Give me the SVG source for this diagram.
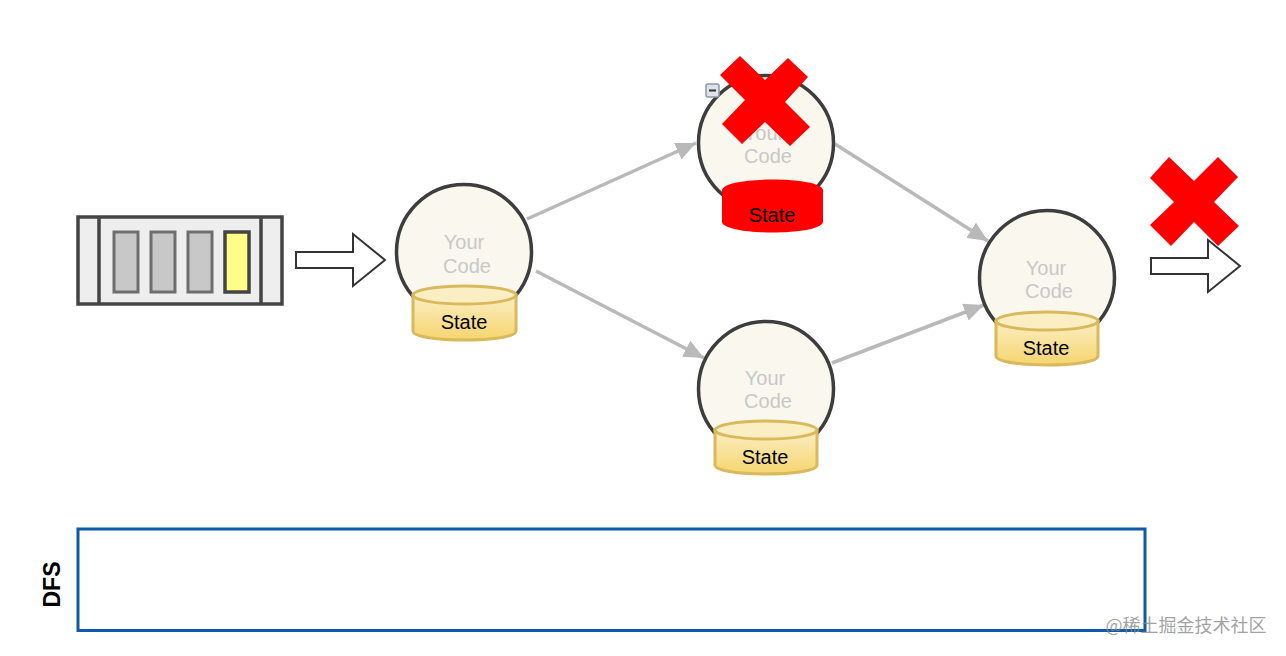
<svg xmlns="http://www.w3.org/2000/svg" width="1286" height="656" viewBox="0 0 1286 656">
<style>
.ball{fill:#f9f7ee;stroke:#3d3d3d;stroke-width:3.5}
.code{font:20px "Liberation Sans",Arial,sans-serif;fill:#c8c8c8;text-anchor:middle}
.state{font:20px "Liberation Sans",Arial,sans-serif;fill:#000;text-anchor:middle}
.can{fill:url(#gold);stroke:#d9b95c;stroke-width:3}
.lid{fill:#fbeec3;stroke:#d9b95c;stroke-width:3}
.conn{stroke:#b9b9b9;stroke-width:3.5;fill:none;marker-end:url(#ah)}
.big{fill:#fff;stroke:#333;stroke-width:2}
.slot{fill:#c8c8c8;stroke:#6e6e6e;stroke-width:3}
.x{fill:#ff0000}
</style>
<defs>
<linearGradient id="gold" x1="0" y1="0" x2="0" y2="1"><stop offset="0" stop-color="#fbeec3"/><stop offset="1" stop-color="#f6d56f"/></linearGradient>
<marker id="ah" markerUnits="userSpaceOnUse" markerWidth="22" markerHeight="18" refX="20" refY="9" orient="auto"><path d="M0 0L20 9L0 18z" fill="#b9b9b9"/></marker>
</defs>
<rect width="1286" height="656" fill="#fff"/>
<g id="connectors">
<path class="conn" d="M527 219L696 143"/>
<path class="conn" d="M536 271L704 358"/>
<path class="conn" d="M835 144L988 241"/>
<path class="conn" d="M832 363L984 305"/>
</g>
<g id="queue">
<rect x="78" y="217" width="204" height="87" fill="#eeeeee" stroke="#444" stroke-width="3.5"/>
<path d="M99 217V304M261 217V304" stroke="#444" stroke-width="3.5" fill="none"/>
<rect class="slot" x="114" y="232" width="24" height="60"/>
<rect class="slot" x="151" y="232" width="24" height="60"/>
<rect class="slot" x="188" y="232" width="24" height="60"/>
<rect x="225" y="232" width="24" height="60" fill="#ffff88" stroke="#444" stroke-width="3.5"/>
</g>
<g id="arrow-in"><path class="big" d="M296 252H353V234L385 260L353 286V268H296z"/></g>
<g id="node-a">
<circle class="ball" cx="464" cy="252" r="67.5"/>
<text class="code" x="464" y="249">Your</text><text class="code" x="467" y="273">Code</text>
<path class="can" d="M413 295V331C413 343 516 343 516 331V295z"/>
<ellipse class="lid" cx="464.500" cy="295" rx="51.500" ry="9"/>
<text class="state" x="464" y="329">State</text>
</g>
<g id="node-b">
<circle class="ball" cx="766" cy="143" r="67.500"/>
<text class="code" x="764" y="140">Your</text><text class="code" x="768" y="163">Code</text>
<path d="M722 190C724 176 821 176 823 190V222C820 236 725 236 722 222z" fill="#ff0000"/>
<text class="state" x="772" y="222">State</text>
<rect x="706" y="84" width="13" height="13" rx="2" fill="#dde3ea" stroke="#8c99a8" stroke-width="1.500"/>
<path d="M709 90.500H716" stroke="#333" stroke-width="2"/>
<path class="x" d="M740 56L765 80L788 58L808 77L785 102L810 127L790 146L765 122L742 144L722 124L745 100L720 75z"/>
</g>
<g id="node-c">
<circle class="ball" cx="766" cy="389" r="67.500"/>
<text class="code" x="765" y="385">Your</text><text class="code" x="768" y="408">Code</text>
<path class="can" d="M715 430V465C715 477 817 477 817 465V430z"/>
<ellipse class="lid" cx="766" cy="430" rx="51" ry="9"/>
<text class="state" x="765" y="464">State</text>
</g>
<g id="node-d">
<circle class="ball" cx="1047" cy="278" r="67.500"/>
<text class="code" x="1046" y="275">Your</text><text class="code" x="1049" y="298">Code</text>
<path class="can" d="M996 321V356C996 368 1098 368 1098 356V321z"/>
<ellipse class="lid" cx="1047" cy="321" rx="51" ry="9"/>
<text class="state" x="1046" y="355">State</text>
</g>
<g id="arrow-out"><path class="big" d="M1151 258H1208V240L1240 266L1208 292V274H1151z"/></g>
<g id="cross-out"><path class="x" d="M1169 157L1194 181L1218 157L1238 177L1214 202L1239 226L1218 246L1194 222L1171 246L1150 225L1174 202L1150 178z"/></g>
<g id="dfs">
<rect x="78" y="529" width="1067" height="101.500" fill="#fff" stroke="#0f5aa6" stroke-width="3"/>
<text x="60" y="584.500" transform="rotate(-90 60 584.500)" font-family="Liberation Sans,Arial,sans-serif" font-size="23" font-weight="bold" text-anchor="middle" fill="#000">DFS</text>
</g>
<text x="1186" y="632" font-family="Noto Sans CJK SC,Liberation Sans,sans-serif" font-size="18" fill="#8a8a8a" fill-opacity=".8" text-anchor="middle">@稀土掘金技术社区</text>
</svg>
